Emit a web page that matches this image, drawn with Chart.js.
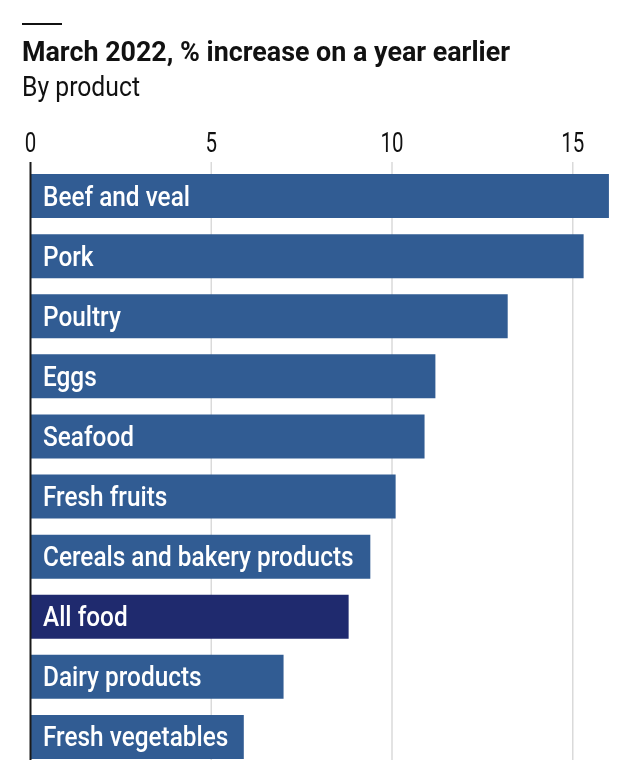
<!DOCTYPE html>
<html>
<head>
<meta charset="utf-8">
<script src="https://cdn.jsdelivr.net/npm/chart.js@4"></script>
<style>
  html, body { margin: 0; padding: 0; background: #fff; }
  body { width: 628px; height: 780px; position: relative; overflow: hidden; font-family: Roboto, sans-serif; }
  #rule { position: absolute; left: 22px; top: 23px; width: 40px; height: 2px; background: #111; }
  .hd { position: absolute; left: 22px; white-space: nowrap; color: #111; line-height: 1; transform-origin: 0 0; }
  #title { top: 38.4px; font-size: 28px; font-weight: bold; }
  #subtitle { top: 74.3px; font-size: 27px; font-weight: normal; }
  #c { position: absolute; left: 0; top: 0; }
</style>
</head>
<body>
<canvas id="c" width="628" height="780"></canvas>
<div id="rule"></div>
<div id="title" class="hd">March 2022, % increase on a year earlier</div>
<div id="subtitle" class="hd">By product</div>
<script>
const categories = ["Beef and veal", "Pork", "Poultry", "Eggs", "Seafood", "Fresh fruits",
  "Cereals and bakery products", "All food", "Dairy products", "Fresh vegetables"];
const values = [16.0, 15.3, 13.2, 11.2, 10.9, 10.1, 9.4, 8.8, 7.0, 5.9];
const highlight = "All food";
const xTicks = [0, 5, 10, 15];

const FONT = 'Roboto, sans-serif';

// condense headings horizontally to match the narrow reference typeface
function fitWidth(id, target) {
  const el = document.getElementById(id);
  const w = el.getBoundingClientRect().width;
  el.style.transform = 'scaleX(' + (target / w) + ')';
}

function condensedFactor(ctx, sample, target) {
  return target / ctx.measureText(sample).width;
}

const drawPlugin = {
  id: 'customDraw',
  beforeDatasetsDraw(chart) {
    const ctx = chart.ctx, x = chart.scales.x, a = chart.chartArea;
    const top = a.top - 4, bottom = a.bottom - 7;
    ctx.save();
    ctx.strokeStyle = '#dadada';
    ctx.lineWidth = 1.5;
    xTicks.forEach(v => {
      if (v === 0) return;
      const px = x.getPixelForValue(v);
      ctx.beginPath(); ctx.moveTo(px, top); ctx.lineTo(px, bottom); ctx.stroke();
    });
    // tick labels
    ctx.fillStyle = '#111';
    ctx.font = '27.5px ' + FONT;
    ctx.textAlign = 'center';
    ctx.textBaseline = 'alphabetic';
    const f = condensedFactor(ctx, '10', 23);
    xTicks.forEach(v => {
      const px = x.getPixelForValue(v);
      ctx.save();
      ctx.translate(px, 152);
      ctx.scale(f, 1);
      ctx.fillText(String(v), 0, 0);
      ctx.restore();
    });
    ctx.restore();
  },
  afterDatasetsDraw(chart) {
    const ctx = chart.ctx, x = chart.scales.x, y = chart.scales.y, a = chart.chartArea;
    const top = a.top - 4, bottom = a.bottom - 7;
    ctx.save();
    ctx.strokeStyle = '#1a1a1a';
    ctx.lineWidth = 2;
    const px = x.getPixelForValue(0);
    ctx.beginPath(); ctx.moveTo(px, top); ctx.lineTo(px, bottom); ctx.stroke();
    // bar labels
    ctx.fillStyle = '#fff';
    ctx.font = '500 28px ' + FONT;
    ctx.textAlign = 'left';
    ctx.textBaseline = 'alphabetic';
    const f = condensedFactor(ctx, 'Beef and veal', 147);
    categories.forEach((c, i) => {
      const py = y.getPixelForValue(i);
      ctx.save();
      ctx.translate(px + 12.5, py + 9.5);
      ctx.scale(f, 1);
      ctx.fillText(c, 0, 0);
      ctx.restore();
    });
    ctx.restore();
  }
};

function build() {
  fitWidth('title', 488);
  fitWidth('subtitle', 118);
  new Chart(document.getElementById('c'), {
    type: 'bar',
    data: {
      labels: categories,
      datasets: [{
        data: values,
        backgroundColor: categories.map(c => c === highlight ? '#1f2a6e' : '#315c93'),
        borderWidth: 0,
        barPercentage: 1,
        categoryPercentage: 44 / 60.1
      }]
    },
    options: {
      indexAxis: 'y',
      responsive: false,
      animation: false,
      layout: { padding: { left: 30.5, right: 1, top: 166, bottom: 13 } },
      plugins: { legend: { display: false }, tooltip: { enabled: false } },
      scales: {
        x: { display: false, min: 0, max: 16.5 },
        y: { display: false }
      }
    },
    plugins: [drawPlugin]
  });
}

if (document.fonts && document.fonts.load) {
  Promise.all([
    document.fonts.load('28px Roboto'),
    document.fonts.load('500 28px Roboto'),
    document.fonts.load('bold 28px Roboto')
  ]).then(build, build);
} else {
  build();
}
</script>
</body>
</html>
